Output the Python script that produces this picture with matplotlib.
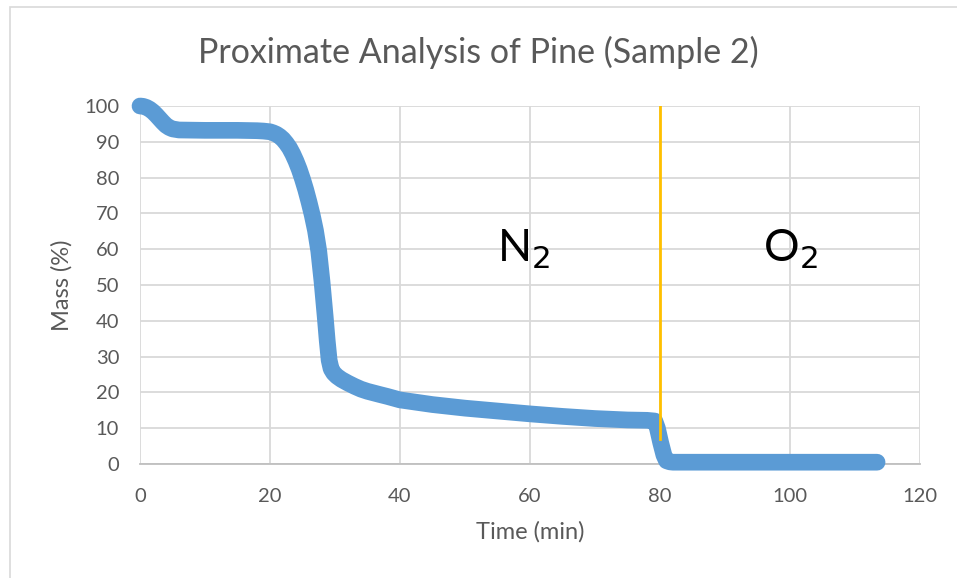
import matplotlib
matplotlib.use("Agg")
import matplotlib.pyplot as plt
from matplotlib.patches import Rectangle

# Mass loss curve
time_min = [0, 0.5, 1, 1.5, 2, 2.5, 3, 3.5, 4, 4.5, 5, 6, 10, 15, 18, 19, 20,
            20.5, 21, 21.5, 22, 22.5, 23, 23.5, 24, 24.5, 25, 25.5, 26, 26.5,
            27, 27.5, 28, 28.5, 28.8, 29.1, 29.4, 29.8, 30.3, 31, 32, 33, 34,
            35, 36.9, 38, 40, 45, 50, 55, 60, 65, 70, 75, 78, 79.2, 79.6, 80.1,
            80.6, 81, 81.5, 82, 90, 100, 113.4]
mass_pct = [100, 99.9, 99.6, 99.1, 98.4, 97.5, 96.5, 95.5, 94.6, 94.0, 93.6,
            93.3, 93.2, 93.2, 93.1, 93.0, 92.8, 92.5, 92.1, 91.5, 90.7, 89.6,
            88.3, 86.6, 84.6, 82.3, 79.6, 76.6, 73.2, 69.5, 65.2, 59.5, 51.0,
            41.0, 34.5, 29.0, 26.6, 25.4, 24.5, 23.6, 22.6, 21.7, 20.9, 20.3,
            19.4, 18.9, 17.9, 16.6, 15.6, 14.8, 14.0, 13.3, 12.7, 12.3, 12.2,
            12.0, 10.0, 6.0, 2.5, 0.9, 0.6, 0.5, 0.5, 0.5, 0.5]

switch_time = 80
switch_range = [7, 100]
atmospheres = ["N$_2$", "O$_2$"]
label_x = [59, 100]
label_y = [60, 60]

xticks = list(range(0, 121, 20))
yticks = list(range(0, 101, 10))

plt.rcParams['font.family'] = ['Lato', 'DejaVu Sans']
grey_text = '#595959'

fig = plt.figure(figsize=(9.57, 5.78), dpi=100)
ax = fig.add_axes([140 / 957, 1 - 464 / 578, 780 / 957, 358 / 578])

ax.plot(time_min, mass_pct, color='#5B9BD5', linewidth=12,
        solid_capstyle='round', solid_joinstyle='round', zorder=3,
        clip_on=False)
ax.plot([switch_time, switch_time], switch_range, color='#FFC000',
        linewidth=2, zorder=4)

for txt, x, y in zip(atmospheres, label_x, label_y):
    ax.text(x, y, txt, fontsize=32, ha='center', va='center', color='black')

ax.set_xlim(0, 120)
ax.set_ylim(0, 100)
ax.set_xticks(xticks)
ax.set_yticks(yticks)
ax.grid(True, color='#D9D9D9', linewidth=1.3)
ax.set_axisbelow(True)
for side in ['top', 'right', 'left']:
    ax.spines[side].set_visible(False)
ax.spines['bottom'].set_color('#BFBFBF')
ax.spines['bottom'].set_linewidth(1.3)
ax.tick_params(length=0, labelsize=14.5, colors=grey_text)
ax.tick_params(axis='x', pad=17)
ax.tick_params(axis='y', pad=15)

ax.set_xlabel('Time (min)', fontsize=17, color=grey_text, labelpad=12)
ax.set_ylabel('Mass (%)', fontsize=17, color=grey_text, labelpad=8)
fig.text(0.5, 1 - 52 / 578, 'Proximate Analysis of Pine (Sample 2)',
         ha='center', va='center', fontsize=24.5, color=grey_text)

# chart frame
fig.patches.append(Rectangle((10 / 957, -0.1), 1.2, 1.1 - 7 / 578,
                             transform=fig.transFigure, fill=False,
                             edgecolor='#D9D9D9', linewidth=1.2))

fig.savefig('out.png', dpi=100)
